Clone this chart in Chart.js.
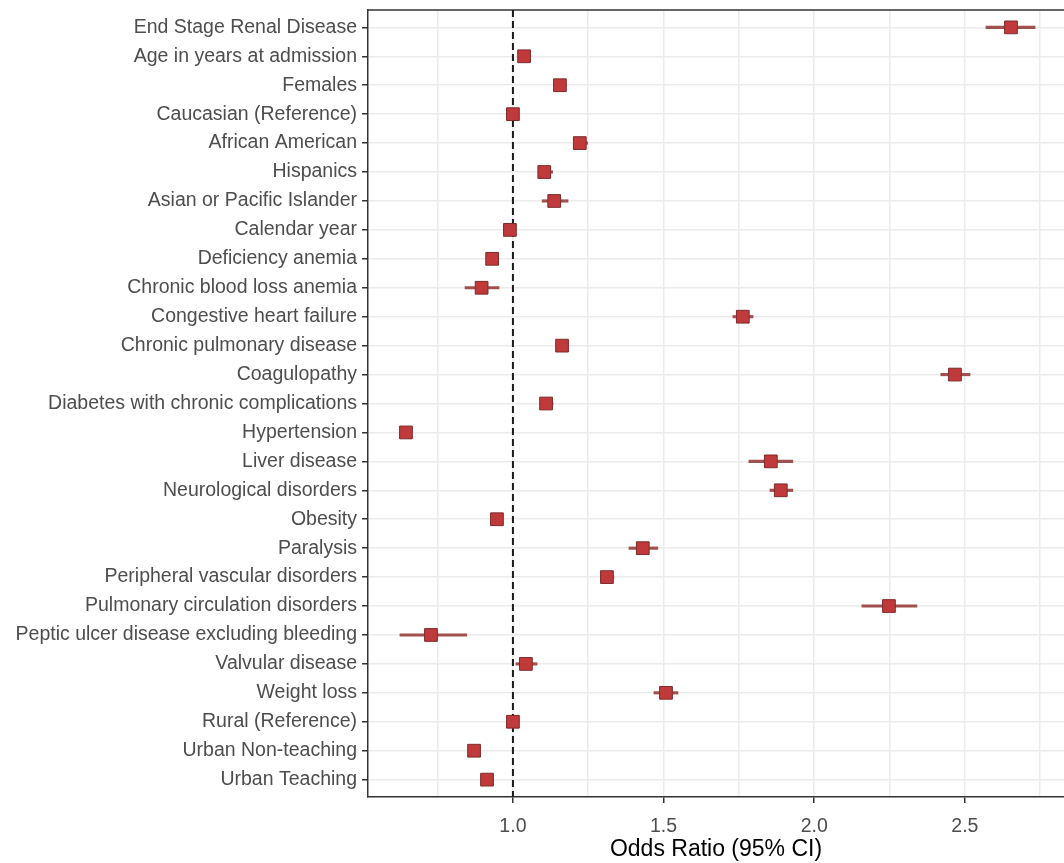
<!DOCTYPE html>
<html>
<head>
<meta charset="utf-8">
<script src="https://cdn.jsdelivr.net/npm/chart.js@4.4.1/dist/chart.umd.min.js"></script>
<style>
  html, body { margin: 0; padding: 0; background: #fff; }
  #wrap { width: 1064px; height: 863px; }
</style>
</head>
<body>
<div id="wrap"><canvas id="forest"></canvas></div>
<script>
var rowLabels = [
  "End Stage Renal Disease", "Age in years at admission", "Females",
  "Caucasian (Reference)", "African American", "Hispanics",
  "Asian or Pacific Islander", "Calendar year", "Deficiency anemia",
  "Chronic blood loss anemia", "Congestive heart failure",
  "Chronic pulmonary disease", "Coagulopathy",
  "Diabetes with chronic complications", "Hypertension", "Liver disease",
  "Neurological disorders", "Obesity", "Paralysis",
  "Peripheral vascular disorders", "Pulmonary circulation disorders",
  "Peptic ulcer disease excluding bleeding", "Valvular disease",
  "Weight loss", "Rural (Reference)", "Urban Non-teaching", "Urban Teaching"
];
var oddsRatio = [2.653, 1.037, 1.156, 1.000, 1.222, 1.104, 1.137, 0.990, 0.931,
  0.896, 1.763, 1.163, 2.467, 1.110, 0.645, 1.856, 1.889, 0.947, 1.431,
  1.312, 2.248, 0.728, 1.043, 1.508, 1.000, 0.871, 0.914];
var ciLow = [2.570, 1.027, 1.146, 1.000, 1.205, 1.087, 1.097, 0.985, 0.921,
  0.841, 1.730, 1.153, 2.420, 1.090, 0.640, 1.783, 1.853, 0.940, 1.385,
  1.292, 2.158, 0.625, 1.010, 1.468, 1.000, 0.862, 0.905];
var ciHigh = [2.733, 1.047, 1.166, 1.000, 1.248, 1.132, 1.183, 0.995, 0.941,
  0.954, 1.797, 1.173, 2.517, 1.133, 0.650, 1.929, 1.929, 0.955, 1.481,
  1.335, 2.341, 0.847, 1.080, 1.548, 1.000, 0.880, 0.922];
var xTicks = [0.75, 1.0, 1.25, 1.5, 1.75, 2.0, 2.25, 2.5, 2.75];
var majorTicks = [1.0, 1.5, 2.0, 2.5];
var refValue = 1.0;

function isMajor(v) {
  return majorTicks.some(function(m){ return Math.abs(m - v) < 1e-6; });
}

var pointData = [];
var ciData = [];
for (var i = 0; i < rowLabels.length; i++) {
  pointData.push({x: oddsRatio[i], y: i + 1});
  ciData.push({x: [ciLow[i], ciHigh[i]], y: i + 1});
}

var yMin = 0.4, yMax = rowLabels.length + 0.6;

var panelTop = {
  id: 'panelTop',
  beforeDatasetsDraw: function(chart) {
    var a = chart.chartArea, c = chart.ctx;
    c.save();
    c.strokeStyle = '#333333';
    c.lineWidth = 1.5;
    c.beginPath();
    c.moveTo(a.left, a.top);
    c.lineTo(a.right, a.top);
    c.stroke();
    c.restore();
  }
};

new Chart(document.getElementById('forest'), {
  type: 'scatter',
  data: {
    datasets: [
      {
        type: 'scatter',
        data: pointData,
        pointStyle: 'rect',
        pointRadius: 9,
        backgroundColor: '#c0393b',
        borderColor: '#7e2a2b',
        borderWidth: 1,
        order: 0
      },
      {
        type: 'bar',
        indexAxis: 'y',
        data: ciData,
        backgroundColor: '#9f5150',
        barThickness: 2.5,
        grouped: false,
        borderWidth: 0,
        borderSkipped: false,
        order: 1
      },
      {
        type: 'line',
        data: [{x: refValue, y: yMin}, {x: refValue, y: yMax}],
        borderColor: '#1a1a1a',
        borderWidth: 2,
        borderDash: [7, 4],
        pointRadius: 0,
        fill: false,
        order: 2
      }
    ]
  },
  options: {
    responsive: true,
    maintainAspectRatio: false,
    animation: false,
    events: [],
    layout: { autoPadding: false, padding: { top: 10, right: 0, left: 0, bottom: 0 } },
    plugins: { legend: { display: false }, tooltip: { enabled: false } },
    scales: {
      x: {
        type: 'linear',
        min: 0.519,
        max: 2.829,
        afterBuildTicks: function(scale) {
          scale.ticks = xTicks.map(function(v){ return {value: v}; });
        },
        afterFit: function(scale) {
          scale.height = 66;
          scale.paddingLeft = 0;
          scale.paddingRight = 0;
        },
        ticks: {
          autoSkip: false,
          maxRotation: 0,
          padding: 12,
          color: '#4d4d4d',
          font: { family: 'Liberation Sans, Arial, sans-serif', size: 19.5 },
          callback: function(v) { return isMajor(v) ? v.toFixed(1) : ''; }
        },
        grid: {
          offset: false,
          color: '#ebebeb',
          lineWidth: 1.5,
          tickLength: 6,
          tickColor: function(ctx) {
            return (ctx.tick && isMajor(ctx.tick.value)) ? '#333333' : 'rgba(0,0,0,0)';
          }
        },
        border: { display: true, color: '#333333', width: 1.5 },
        title: {
          display: true,
          text: 'Odds Ratio (95% CI)',
          color: '#000000',
          font: { family: 'Liberation Sans, Arial, sans-serif', size: 23 },
          padding: { top: 0, bottom: 0 }
        }
      },
      y: {
        type: 'linear',
        min: yMin,
        max: yMax,
        reverse: true,
        offset: false,
        afterBuildTicks: function(scale) {
          scale.ticks = rowLabels.map(function(_, i){ return {value: i + 1}; });
        },
        afterFit: function(scale) {
          scale.width = 368;
          scale.paddingTop = 0;
          scale.paddingBottom = 0;
        },
        ticks: {
          autoSkip: false,
          padding: 5,
          color: '#4d4d4d',
          font: { family: 'Liberation Sans, Arial, sans-serif', size: 19.5 },
          callback: function(v) { return rowLabels[Math.round(v) - 1]; }
        },
        grid: {
          offset: false,
          color: '#ebebeb',
          lineWidth: 1.5,
          tickLength: 6,
          tickColor: '#333333'
        },
        border: { display: true, color: '#333333', width: 1.5 }
      }
    }
  },
  plugins: [panelTop]
});
</script>
</body>
</html>
